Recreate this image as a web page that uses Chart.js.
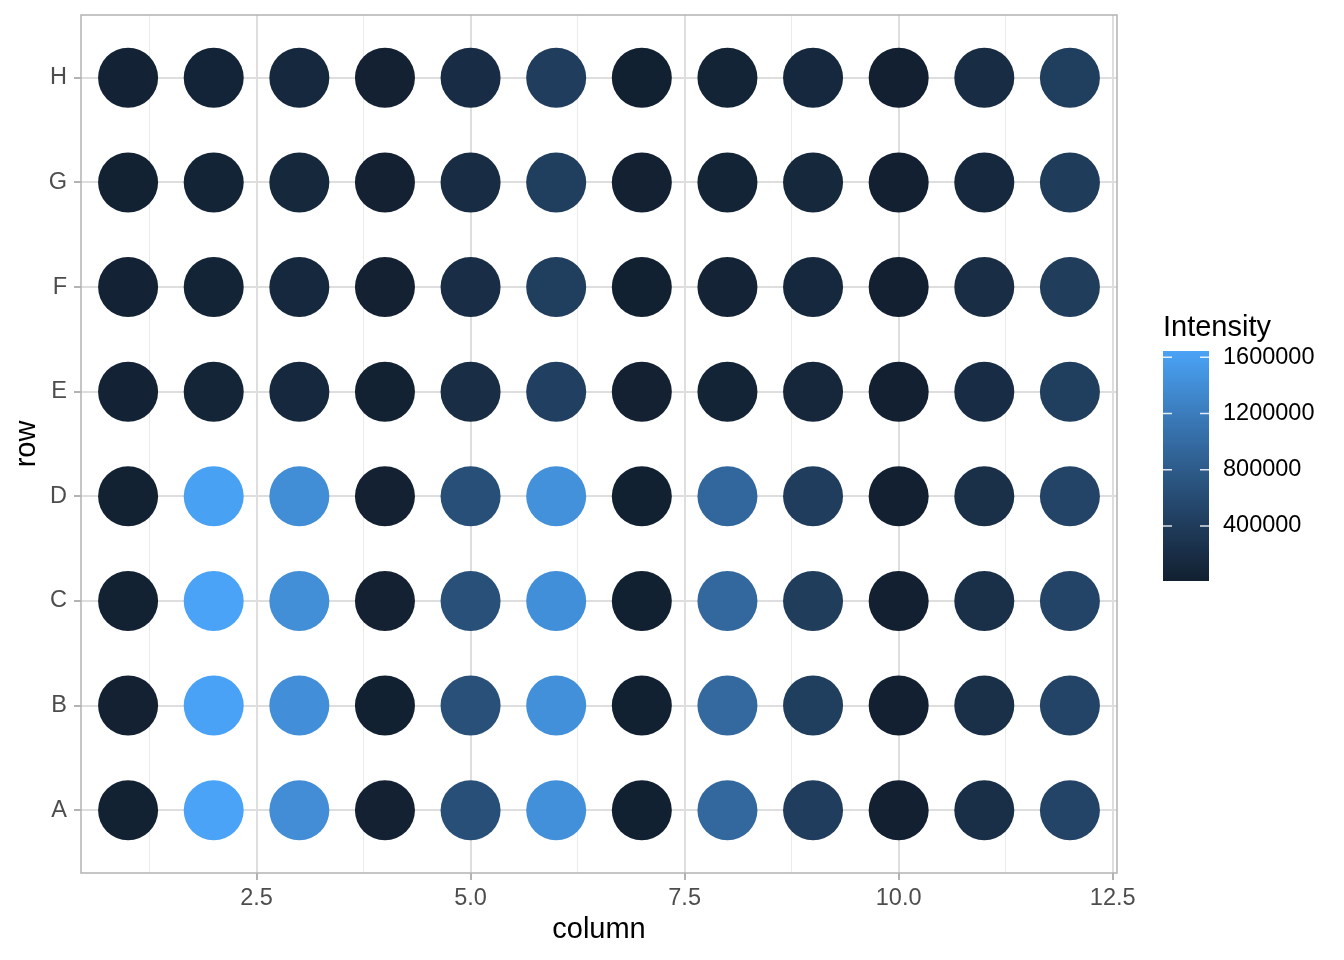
<!DOCTYPE html>
<html>
<head>
<meta charset="utf-8">
<script src="https://cdn.jsdelivr.net/npm/chart.js@4.4.1/dist/chart.umd.min.js"></script>
<style>
  html, body { margin: 0; padding: 0; background: #fff; }
  #wrap { width: 1344px; height: 960px; position: relative; }
</style>
</head>
<body>
<div id="wrap"><canvas id="plateChart" width="1344" height="960"></canvas></div>
<script>
// Plate layout
const columns = [1, 2, 3, 4, 5, 6, 7, 8, 9, 10, 11, 12];
const rows = ['A', 'B', 'C', 'D', 'E', 'F', 'G', 'H'];

// Intensity per well (one array per row)
const rowA = [30000, 1640000, 1400000, 25000, 650000, 1430000, 20000, 960000, 415000, 8000, 225000, 500000];
const rowB = [28000, 1635000, 1410000, 22000, 660000, 1425000, 18000, 965000, 420000, 10000, 230000, 505000];
const rowC = [32000, 1645000, 1405000, 24000, 655000, 1420000, 21000, 955000, 410000, 9000, 228000, 498000];
const rowD = [30000, 1625000, 1395000, 26000, 645000, 1435000, 19000, 950000, 412000, 12000, 232000, 502000];
const rowE = [35000, 75000, 125000, 30000, 200000, 440000, 25000, 65000, 115000, 15000, 195000, 420000];
const rowF = [33000, 70000, 120000, 28000, 205000, 425000, 22000, 60000, 120000, 12000, 200000, 410000];
const rowG = [30000, 68000, 118000, 26000, 190000, 420000, 24000, 62000, 118000, 14000, 120000, 395000];
const rowH = [34000, 72000, 122000, 25000, 195000, 415000, 20000, 66000, 122000, 10000, 185000, 420000];
const intensityRows = [rowA, rowB, rowC, rowD, rowE, rowF, rowG, rowH];

// Axis / legend ticks
const xMajorTicks = [2.5, 5.0, 7.5, 10.0, 12.5];
const xMinorTicks = [1.25, 3.75, 6.25, 8.75, 11.25];
const legendTicks = [400000, 800000, 1200000, 1600000];

const LOW_COLOR = '#122031';
const HIGH_COLOR = '#4AA3F7';
const FONT = '"Liberation Sans", Arial, Helvetica, sans-serif';

// --- colour helpers (Lab interpolation like ggplot's gradient) ---
function hexToRgb(hex) {
    const n = parseInt(hex.slice(1), 16);
    return [(n >> 16) & 255, (n >> 8) & 255, n & 255];
}
function toLinear(c) {
    c /= 255;
    return c <= 0.04045 ? c / 12.92 : Math.pow((c + 0.055) / 1.055, 2.4);
}
function fromLinear(c) {
    const v = c <= 0.0031308 ? 12.92 * c : 1.055 * Math.pow(c, 1 / 2.4) - 0.055;
    return Math.round(Math.max(0, Math.min(1, v)) * 255);
}
function rgbToLab(rgb) {
    const [r, g, b] = rgb.map(toLinear);
    const x = (0.4124 * r + 0.3576 * g + 0.1805 * b) / 0.95047;
    const y = 0.2126 * r + 0.7152 * g + 0.0722 * b;
    const z = (0.0193 * r + 0.1192 * g + 0.9505 * b) / 1.08883;
    const f = t => t > 0.008856 ? Math.cbrt(t) : 7.787 * t + 16 / 116;
    const fx = f(x), fy = f(y), fz = f(z);
    return [116 * fy - 16, 500 * (fx - fy), 200 * (fy - fz)];
}
function labToRgb(lab) {
    const [L, a, b] = lab;
    const fy = (L + 16) / 116, fx = fy + a / 500, fz = fy - b / 200;
    const inv = t => t * t * t > 0.008856 ? t * t * t : (t - 16 / 116) / 7.787;
    const x = inv(fx) * 0.95047, y = inv(fy), z = inv(fz) * 1.08883;
    const r = 3.2406 * x - 1.5372 * y - 0.4986 * z;
    const g = -0.9689 * x + 1.8758 * y + 0.0415 * z;
    const bl = 0.0557 * x - 0.2040 * y + 1.0570 * z;
    return 'rgb(' + fromLinear(r) + ',' + fromLinear(g) + ',' + fromLinear(bl) + ')';
}

const lowLab = rgbToLab(hexToRgb(LOW_COLOR));
const highLab = rgbToLab(hexToRgb(HIGH_COLOR));
const allValues = intensityRows.flat();
const vMin = Math.min(...allValues);
const vMax = Math.max(...allValues);

function colorFor(v) {
    const t = Math.max(0, Math.min(1, (v - vMin) / (vMax - vMin)));
    return labToRgb(lowLab.map((c, i) => c + (highLab[i] - c) * t));
}

// --- build points ---
const points = [];
const pointColors = [];
intensityRows.forEach((vals, r) => {
    vals.forEach((v, c) => {
        points.push({ x: columns[c], y: r + 1, v: v });
        pointColors.push(colorFor(v));
    });
});

// no automatic label padding, the panel box is fixed
function noPadding(scale) {
    scale.paddingTop = 0;
    scale.paddingBottom = 0;
    scale.paddingLeft = 0;
    scale.paddingRight = 0;
}

// Panel border on top of everything
const panelBorder = {
    id: 'panelBorder',
    afterDatasetsDraw(chart) {
        const { ctx, chartArea: a } = chart;
        ctx.save();
        ctx.strokeStyle = '#B3B3B3';
        ctx.lineWidth = 1.5;
        ctx.strokeRect(a.left, a.top, a.right - a.left, a.bottom - a.top);
        ctx.restore();
    }
};

// Colourbar legend on the right
const colorBar = {
    id: 'colorBar',
    afterDraw(chart) {
        const ctx = chart.ctx;
        const bx = 1163, bw = 46, top = 351, bottom = 581;
        ctx.save();
        ctx.fillStyle = '#000';
        ctx.font = '29px ' + FONT;
        ctx.textAlign = 'left';
        ctx.textBaseline = 'alphabetic';
        ctx.fillText('Intensity', 1163, 336);

        const grad = ctx.createLinearGradient(0, bottom, 0, top);
        for (let i = 0; i <= 40; i++) {
            grad.addColorStop(i / 40, colorFor(vMin + (vMax - vMin) * i / 40));
        }
        ctx.fillStyle = grad;
        ctx.fillRect(bx, top, bw, bottom - top);

        ctx.font = '23.5px ' + FONT;
        ctx.textBaseline = 'middle';
        legendTicks.forEach(t => {
            const y = bottom - (t - vMin) / (vMax - vMin) * (bottom - top);
            ctx.strokeStyle = 'rgba(255,255,255,0.85)';
            ctx.lineWidth = 1.5;
            ctx.beginPath();
            ctx.moveTo(bx, y); ctx.lineTo(bx + 9, y);
            ctx.moveTo(bx + bw - 9, y); ctx.lineTo(bx + bw, y);
            ctx.stroke();
            ctx.fillStyle = '#000';
            ctx.fillText(String(t), 1223, y);
        });
        ctx.restore();
    }
};

Chart.defaults.font.family = FONT;

new Chart(document.getElementById('plateChart'), {
    type: 'scatter',
    data: {
        datasets: [{
            data: points,
            pointRadius: 30,
            pointHoverRadius: 30,
            pointBorderWidth: 0,
            pointBackgroundColor: pointColors,
            pointBorderColor: pointColors
        }]
    },
    options: {
        responsive: false,
        animation: false,
        devicePixelRatio: 1,
        layout: { autoPadding: false, padding: { left: 0, top: 15, right: 227, bottom: 0 } },
        plugins: {
            legend: { display: false },
            tooltip: { enabled: false }
        },
        scales: {
            x: {
                type: 'linear',
                min: 0.45,
                max: 12.55,
                afterBuildTicks: scale => {
                    scale.ticks = [...xMinorTicks, ...xMajorTicks]
                        .sort((a, b) => a - b)
                        .map(v => ({ value: v }));
                },
                afterFit: scale => { scale.height = 87; noPadding(scale); },
                border: { display: false },
                grid: {
                    color: ctx => xMajorTicks.includes(ctx.tick.value) ? '#DEDEDE' : '#EBEBEB',
                    lineWidth: ctx => xMajorTicks.includes(ctx.tick.value) ? 2 : 1,
                    tickColor: ctx => xMajorTicks.includes(ctx.tick.value) ? '#B3B3B3' : 'rgba(0,0,0,0)',
                    tickLength: 7,
                    tickWidth: 2
                },
                ticks: {
                    autoSkip: false,
                    maxRotation: 0,
                    padding: 4,
                    color: '#4D4D4D',
                    font: { size: 23.5 },
                    callback: v => xMajorTicks.includes(v) ? v.toFixed(1) : ''
                },
                title: {
                    display: true,
                    text: 'column',
                    color: '#000',
                    font: { size: 29 },
                    padding: { top: 0, bottom: 13 }
                }
            },
            y: {
                type: 'linear',
                min: 0.4,
                max: 8.6,
                afterBuildTicks: scale => {
                    scale.ticks = rows.map((r, i) => ({ value: i + 1 }));
                },
                afterFit: scale => { scale.width = 81; noPadding(scale); },
                border: { display: false },
                grid: {
                    color: '#DEDEDE',
                    lineWidth: 2,
                    tickColor: '#B3B3B3',
                    tickLength: 7,
                    tickWidth: 2
                },
                ticks: {
                    autoSkip: false,
                    padding: 7,
                    color: '#4D4D4D',
                    font: { size: 23.5 },
                    callback: v => rows[v - 1]
                },
                title: {
                    display: true,
                    text: 'row',
                    color: '#000',
                    font: { size: 29 },
                    padding: { top: 10, bottom: 0 }
                }
            }
        }
    },
    plugins: [panelBorder, colorBar]
});
</script>
</body>
</html>
